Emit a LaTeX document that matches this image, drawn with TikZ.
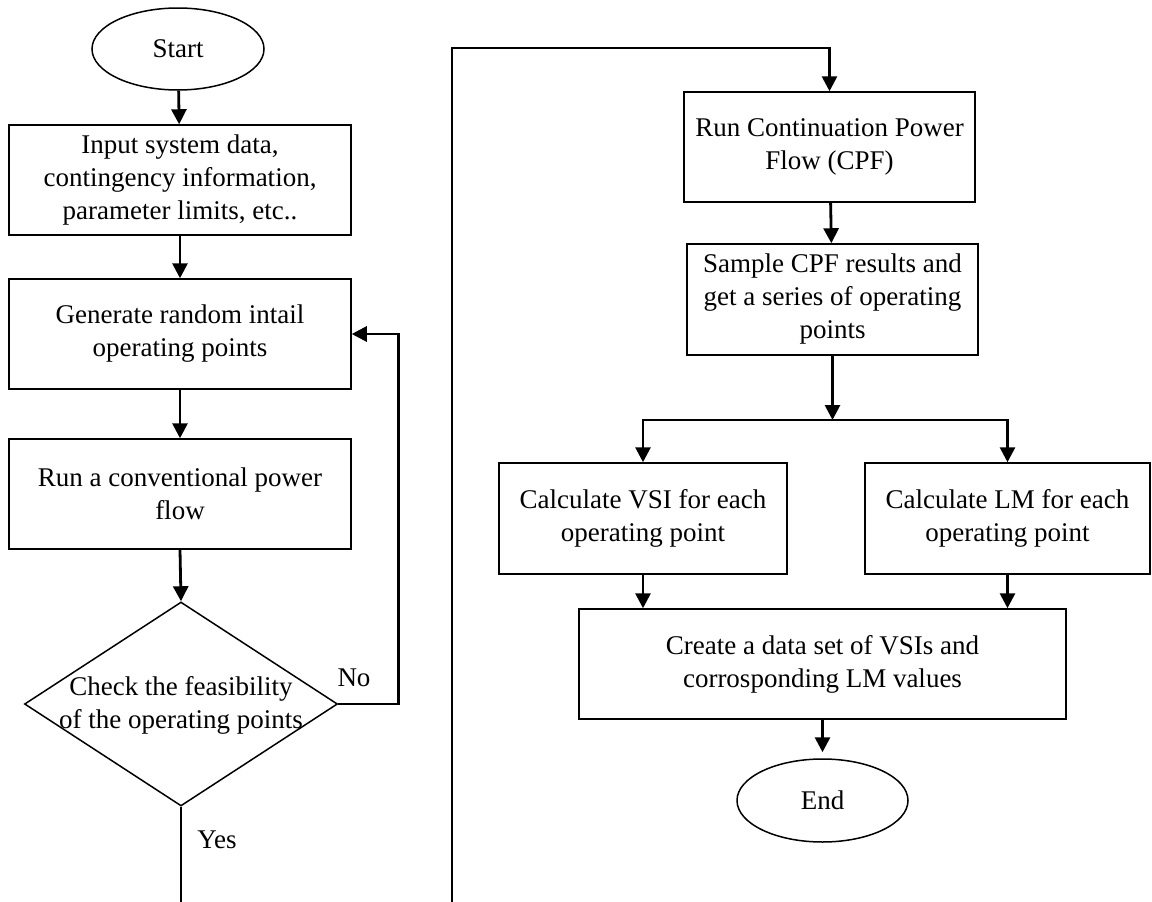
\documentclass[tikz,border=0pt]{standalone}
\usepackage{fontspec}
\setmainfont{Liberation Serif}
\usetikzlibrary{shapes.geometric,arrows.meta}
\begin{document}
\begin{tikzpicture}[x=1pt,y=-1pt,
  font=\fontsize{27}{33}\selectfont,
  stepbox/.style={draw, line width=1.5pt, align=center, inner sep=0pt},
  term/.style={draw, ellipse, line width=1.5pt, inner sep=0pt},
  decision/.style={draw, diamond, line width=1.5pt, inner sep=0pt},
  lbl/.style={inner sep=0pt, align=center},
  link/.style={line width=2.8pt, line join=miter},
  conn/.style={link, -{Triangle[length=15pt,width=15pt]}}]

% canvas
\fill[white] (0,0) rectangle (1152,902);
\useasboundingbox (0,0) rectangle (1152,902);

% left column: sampling of feasible operating points
\node[term, minimum width=172pt, minimum height=82pt] (start) at (178,49) {Start};
\node[stepbox, minimum width=342pt, minimum height=110pt] (input) at (180,180)
  {Input system data,\\contingency information,\\parameter limits, etc..};
\node[stepbox, minimum width=342pt, minimum height=110pt] (gen) at (180,334)
  {Generate random intail\\operating points};
\node[stepbox, minimum width=342pt, minimum height=110pt] (pf) at (180,494)
  {Run a conventional power\\flow};
\node[decision, minimum width=313pt, minimum height=204pt] (chk) at (181,704) {};
\node[lbl] (chktext) at (181,705) {Check the feasibility\\of the operating points};
\node[lbl] (nolbl) at (354,678) {No};
\node[lbl] (yeslbl) at (217,840) {Yes};

% right column: CPF and index computation
\node[stepbox, minimum width=291pt, minimum height=110pt] (cpf) at (829.5,147)
  {Run Continuation Power\\Flow (CPF)};
\node[stepbox, minimum width=291pt, minimum height=111pt] (sample) at (832.5,299.5)
  {Sample CPF results and\\get a series of operating\\points};
\node[stepbox, minimum width=288pt, minimum height=111pt] (vsi) at (643,518.5)
  {Calculate VSI for each\\operating point};
\node[stepbox, minimum width=285pt, minimum height=111pt] (lm) at (1007.5,518.5)
  {Calculate LM for each\\operating point};
\node[stepbox, minimum width=487pt, minimum height=110pt] (create) at (822.5,664)
  {Create a data set of VSIs and\\corrosponding LM values};
\node[term, minimum width=171pt, minimum height=83pt] (end) at (822.5,800.5) {End};

% free ends of the page-crossing connectors
\coordinate (yesend) at (181,902);
\coordinate (loopbot) at (452,902);
\coordinate (looptop) at (452,48);
\coordinate (split) at (832.5,420);

% left column connectors
\draw[conn] (start) -- (input);
\draw[conn] (input) -- (gen);
\draw[conn] (gen) -- (pf);
\draw[conn] (pf.south) -- (chk.north);
\draw[conn] (chk.east) -- ++(60,0) |- (gen.east);
\draw[link] (chk.south) -- (yesend);

% link between the two columns
\draw[conn] (loopbot) -- (looptop) -| (cpf.north);

% right column connectors
\draw[conn] (cpf) -- (sample);
\draw[conn] (sample.south) -- (split);
\draw[conn] (split) -| (vsi.north);
\draw[conn] (split) -| (lm.north);
\draw[conn] (vsi.south) -- (vsi.south |- create.north);
\draw[conn] (lm.south) -- (lm.south |- create.north);
\draw[conn, shorten >=6pt] (create.south) -- (end.north);
\end{tikzpicture}
\end{document}
